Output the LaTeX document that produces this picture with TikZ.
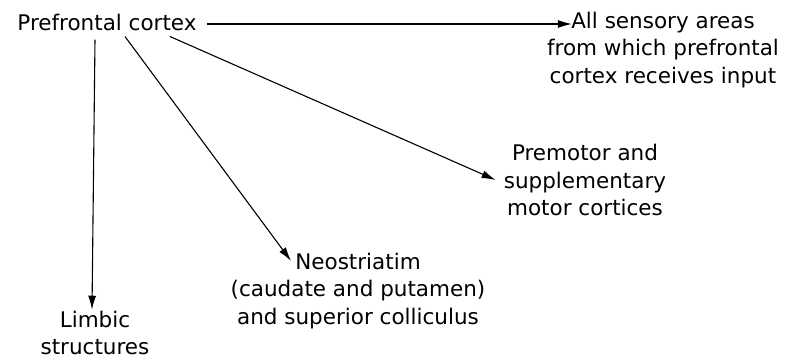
\documentclass[tikz,border=0pt]{standalone}
\usepackage{fontspec}
\setmainfont{DejaVu Sans}
\usetikzlibrary{arrows.meta,calc,positioning}

\begin{document}
\begin{tikzpicture}[x=1pt,y=-1pt,
    area/.style={align=center,inner sep=2pt,font=\fontsize{21.5}{27.5}\selectfont},
    proj/.style={-{Latex[length=14pt,width=8pt]},line width=1.1pt}]
    \useasboundingbox (0,0) rectangle (792,363);
    \node[area] (pfc) at (107,22) {Prefrontal cortex};
    \node[area] (sens) at (663,50) {All sensory areas\\from which prefrontal\\cortex receives input};
    \node[area] (premotor) at (585,180) {Premotor and\\supplementary\\motor cortices};
    \node[area] (neo) at (358,291) {Neostriatim\\(caudate and putamen)\\and superior colliculus};
    \node[area] (limbic) at (95,333) {Limbic\\structures};
    \draw[proj,shorten <=8pt] ([yshift=-2pt]pfc.east) -- ($([yshift=-2pt]pfc.east -| sens.west)+(27,0)$);
    \draw[proj] ([yshift=-7pt]pfc.south -| limbic.north) -- ([xshift=-3pt,yshift=-1pt]limbic.north);
    \draw[proj] ([xshift=18pt,yshift=-4pt]pfc.south) -- ([xshift=-67pt,yshift=-10pt]neo.north);
    \draw[proj] ([xshift=63pt,yshift=-4pt]pfc.south) -- ([xshift=-6pt]premotor.west);
\end{tikzpicture}
\end{document}
